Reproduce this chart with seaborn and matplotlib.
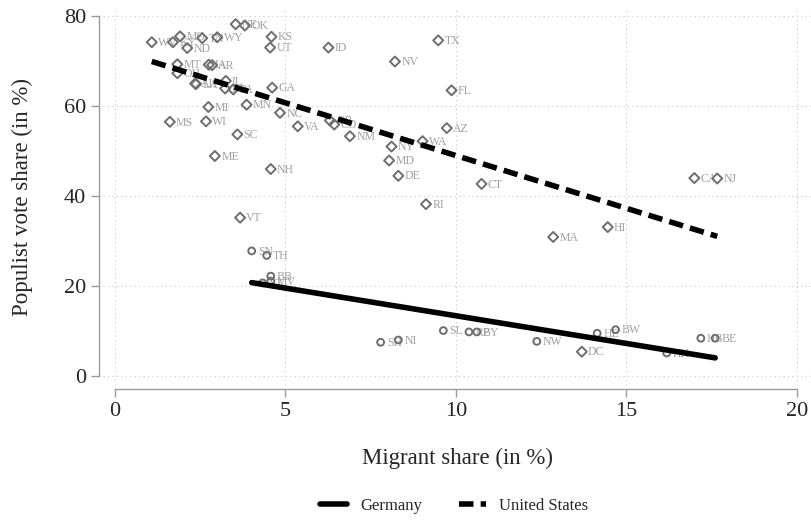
import pandas as pd
import matplotlib
matplotlib.use('Agg')
import matplotlib.pyplot as plt
import seaborn as sns
from matplotlib.lines import Line2D

# US states: migrant share vs populist vote share
us_states = ['WV', 'KY', 'MO', 'TN', 'WY', 'NE', 'OK', 'ND', 'MT', 'IA', 'AR', 'OH',
             'AL', 'LA', 'IL', 'IN', 'PA', 'GA', 'KS', 'UT', 'ID', 'MI', 'MN', 'NC',
             'MS', 'WI', 'SC', 'VA', 'ME', 'NH', 'VT', 'TX', 'NV', 'FL', 'OR', 'CO',
             'NM', 'AZ', 'WA', 'NY', 'MD', 'DE', 'CT', 'RI', 'MA', 'HI', 'CA', 'NJ', 'DC']
us_migrant = [1.08, 1.70, 1.91, 2.56, 3.00, 3.54, 3.81, 2.12, 1.83, 2.75, 2.85, 1.83,
              2.35, 2.38, 3.25, 3.23, 3.47, 4.61, 4.59, 4.55, 6.26, 2.74, 3.86, 4.84,
              1.61, 2.67, 3.59, 5.36, 2.93, 4.57, 3.67, 9.48, 8.21, 9.87, 6.30, 6.43,
              6.89, 9.73, 9.02, 8.11, 8.04, 8.31, 10.75, 9.12, 12.85, 14.45, 16.99, 17.66, 13.69]
us_populist = [74.2, 74.2, 75.5, 75.1, 75.3, 78.2, 77.9, 72.9, 69.3, 69.2, 69.1, 67.3,
               65.0, 64.9, 65.6, 63.9, 63.7, 64.1, 75.4, 73.0, 73.0, 59.8, 60.3, 58.5,
               56.5, 56.6, 53.7, 55.5, 48.9, 46.0, 35.2, 74.6, 69.9, 63.5, 56.8, 55.9,
               53.3, 55.1, 52.2, 51.0, 47.9, 44.5, 42.7, 38.2, 30.9, 33.1, 44.0, 43.9, 5.4]

# German Laender
de_states = ['SN', 'TH', 'BB', 'ST', 'MV', 'SH', 'NI', 'SL', 'RP', 'BY', 'NW', 'HE',
             'BW', 'HH', 'HB', 'BE']
de_migrant = [4.01, 4.45, 4.57, 4.33, 4.57, 7.79, 8.31, 9.63, 10.38, 10.61, 12.37, 14.14,
              14.68, 16.18, 17.18, 17.60]
de_populist = [27.8, 26.8, 22.2, 20.7, 21.1, 7.5, 8.0, 10.1, 9.8, 9.8, 7.7, 9.5,
               10.3, 5.1, 8.4, 8.4]

us = pd.DataFrame({'state': us_states, 'migrant': us_migrant, 'populist': us_populist})
de = pd.DataFrame({'state': de_states, 'migrant': de_migrant, 'populist': de_populist})

sns.set_style('white')
plt.rcParams['font.family'] = ['Liberation Serif', 'DejaVu Serif']

fig = plt.figure(figsize=(8.11, 5.20), dpi=100)
# plot region: 103..811 px wide, 8..385 px from top
ax = fig.add_axes([103 / 811, 135 / 520, 708 / 811, 377 / 520])

mark_col = '#6e6e6e'
lab_col = '#a0a0a0'
dash = (0, (2.6, 1.3))

sns.scatterplot(data=us, x='migrant', y='populist', marker='D', s=26,
                facecolor='none', edgecolor=mark_col, linewidth=1.4, ax=ax, zorder=3)
sns.scatterplot(data=de, x='migrant', y='populist', marker='o', s=24,
                facecolor='none', edgecolor=mark_col, linewidth=1.4, ax=ax, zorder=3)

for df in (us, de):
    for _, r in df.iterrows():
        ax.annotate(r['state'], (r['migrant'], r['populist']), xytext=(4.5, -0.5),
                    textcoords='offset points', va='center', ha='left',
                    fontsize=8.5, color=lab_col, zorder=2)

# linear fits
sns.regplot(data=de, x='migrant', y='populist', scatter=False, ci=None, ax=ax,
            line_kws={'color': 'black', 'lw': 4, 'zorder': 4})
sns.regplot(data=us, x='migrant', y='populist', scatter=False, ci=None, ax=ax,
            line_kws={'color': 'black', 'lw': 4, 'ls': dash, 'zorder': 4})

ax.set_xlim(-0.35, 20.41)
ax.set_ylim(-2.0, 81.8)
ax.set_xticks([0, 5, 10, 15, 20])
ax.set_yticks([0, 20, 40, 60, 80])
ax.grid(True, ls=(0, (1, 3)), color='#c8c8c8', lw=0.8)

for s in ['top', 'right']:
    ax.spines[s].set_visible(False)
ax.spines['left'].set_bounds(0, 80)
ax.spines['bottom'].set_bounds(0, 20)
ax.spines['left'].set_position(('outward', 3))
ax.spines['bottom'].set_position(('outward', 3))
for s in ['left', 'bottom']:
    ax.spines[s].set_color('#9a9a9a')
    ax.spines[s].set_linewidth(1.0)
ax.tick_params(axis='both', which='major', length=6, width=1.0, color='#9a9a9a',
               labelsize=16, direction='out', left=True, bottom=True, pad=3)

ax.set_xlabel('Migrant share (in %)', fontsize=16.5, ha='center', va='center')
ax.set_ylabel('Populist vote share (in %)', fontsize=16.5, ha='center', va='center')
ax.xaxis.set_label_coords(0.5, (385 - 458) / 377)
ax.yaxis.set_label_coords((22 - 103) / 708, 0.5)

handles = [Line2D([], [], color='black', lw=4),
           Line2D([], [], color='black', lw=4, ls=dash)]
fig.legend(handles, ['Germany', 'United States'], loc='center', ncol=2,
           bbox_to_anchor=(0.56, 0.027), frameon=False, fontsize=12,
           handlelength=1.6, handletextpad=0.8, columnspacing=2.2)

fig.savefig('out.png', dpi=100)
